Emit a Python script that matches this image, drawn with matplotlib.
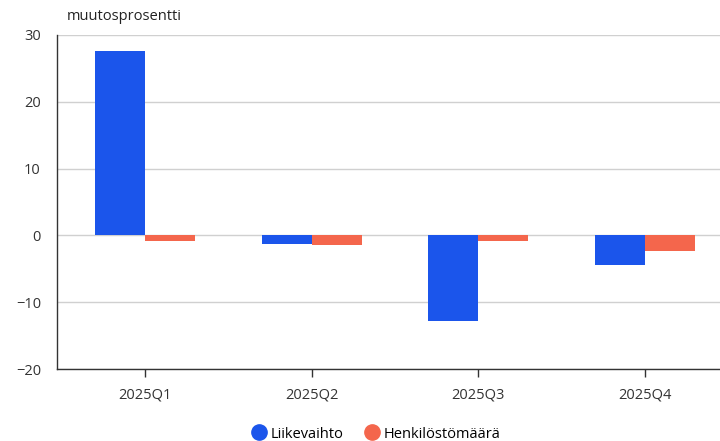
import matplotlib
matplotlib.use("Agg")
import matplotlib.pyplot as plt
from matplotlib.lines import Line2D
import numpy as np

categories = ["2025Q1", "2025Q2", "2025Q3", "2025Q4"]
liikevaihto = [27.6, -1.3, -12.8, -4.4]
henkilosto = [-0.9, -1.4, -0.9, -2.3]
series_names = ["Liikevaihto", "Henkilöstömäärä"]
yticks = [-20, -10, 0, 10, 20, 30]

blue = "#1b55eb"
red = "#f4664c"

plt.rcParams['font.family'] = ['Open Sans', 'DejaVu Sans']

fig = plt.figure(figsize=(7.2, 4.41), dpi=100)
ax = fig.add_axes([0.079, 0.163, 0.921, 0.7577])

x = np.arange(len(categories))
w = 0.3
ax.bar(x - w/2, liikevaihto, width=w, color=blue, zorder=3)
ax.bar(x + w/2, henkilosto, width=w, color=red, zorder=3)

ax.set_xlim(-0.528, 3.45)
ax.set_ylim(-20, 30)
ax.set_yticks(yticks)
ax.set_yticklabels([str(v).replace("-", "\u2212") for v in yticks])
ax.set_xticks(x)
ax.set_xticklabels(categories)
ax.grid(axis='y', color='#d0d0d0', linewidth=1, zorder=0)
ax.tick_params(axis='y', length=0, labelsize=10.5, colors='#333333', pad=11.5)
ax.tick_params(axis='x', length=6, width=1, color='#333333', labelsize=10.5, labelcolor='#333333', pad=7)
for s in ['top', 'right']:
    ax.spines[s].set_visible(False)
for s in ['left', 'bottom']:
    ax.spines[s].set_color('#333333')
    ax.spines[s].set_linewidth(1)

fig.text(67/720, 1 - 16/441, "muutosprosentti", fontsize=10.5, color='#222222', va='center', ha='left')

handles = [Line2D([], [], marker='o', linestyle='none', markersize=11, color=c) for c in (blue, red)]
fig.legend(handles, series_names, loc='center', bbox_to_anchor=(376/720, 1 - 434/441), ncol=2,
           frameon=False, fontsize=10.5, handletextpad=0.3, columnspacing=1.4, handlelength=1.0)

fig.savefig("out.png", dpi=100)
